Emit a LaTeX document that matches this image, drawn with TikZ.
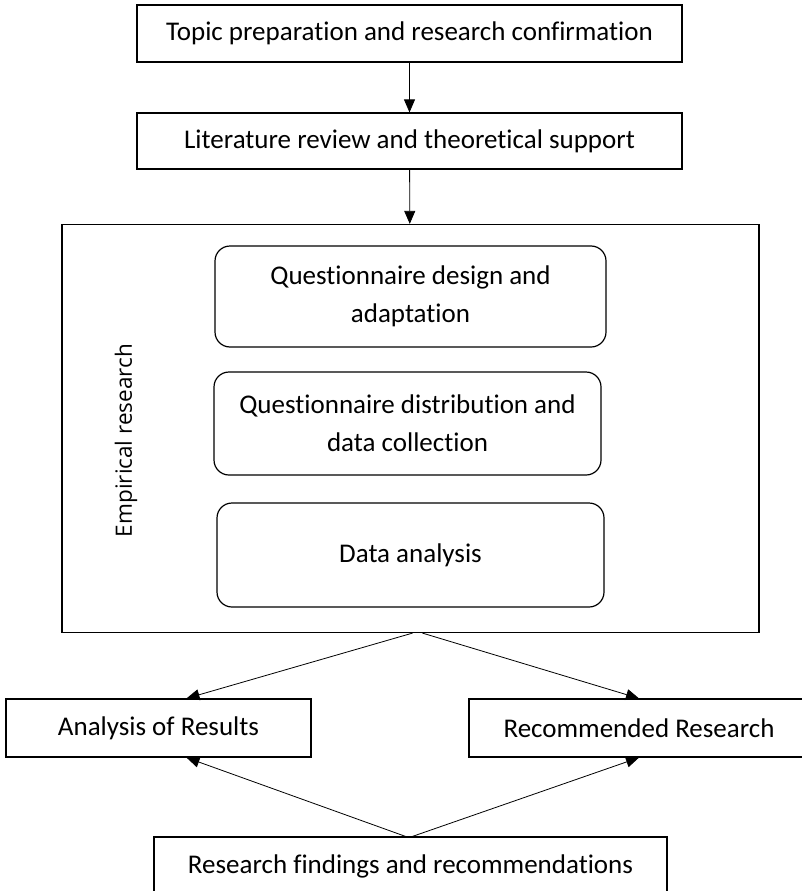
\documentclass[tikz,border=0pt]{standalone}
\usepackage{fontspec}
\setmainfont{Carlito}[Ligatures=NoCommon]
\newfontfamily\etiqfont{Open Sans}
\usetikzlibrary{arrows.meta}
\tikzset{
  boite/.style={draw, line width=1.2pt, minimum height=57pt, inner sep=0pt,
    font=\fontsize{27}{38}\selectfont},
  arrondi/.style={boite, rounded corners=15pt, align=center},
  fleche/.style={-{Triangle[length=13pt,width=11pt]}, line width=0.8pt},
}
\begin{document}
\begin{tikzpicture}[x=1pt, y=-1pt]
    \useasboundingbox (0, 0) rectangle (801, 891);

    % Etapes du haut
    \node[boite, minimum width=545pt] (sujet) at (409.5, 33.5)
    {Topic preparation and research confirmation};
    \node[boite, minimum width=545pt, minimum height=56pt] (revue) at (409.5, 141)
    {Literature review and theoretical support};

    % Recherche empirique
    \node[boite, minimum width=697pt, minimum height=408pt] (empir) at (410.5, 428.5) {};
    \node[rotate=90, font=\etiqfont\fontsize{22.5}{26}\selectfont] (etiq) at (126, 440.5)
    {Empirical research};
    \node[arrondi, minimum width=391pt, minimum height=101pt] (conc) at (410.5, 296.5)
    {Questionnaire design and\\adaptation};
    \node[arrondi, minimum width=387pt, minimum height=103pt] (distr) at (407.5, 423.5)
    {Questionnaire distribution and\\data collection};
    \node[arrondi, minimum width=387pt, minimum height=104pt] (anal) at (410.5, 555)
    {Data analysis};

    % Resultats
    \node[boite, minimum width=305pt, minimum height=58pt] (res) at (158.5, 728)
    {Analysis of Results};
    \node[boite, minimum width=340pt, minimum height=58pt] (reco) at (639, 728)
    {Recommended Research};
    \node[boite, minimum width=513pt, minimum height=58pt] (synth) at (410.5, 866)
    {Research findings and recommendations};

    % Fleches
    \draw[fleche] (sujet) -- (revue);
    \draw[fleche] (revue) -- (empir);
    \draw[fleche] ([xshift=2pt]empir.south) -- ([xshift=28pt]res.north);
    \draw[fleche] ([xshift=12pt]empir.south) -- (reco.north);
    \draw[fleche] ([xshift=-5pt]synth.north) -- ([xshift=28pt]res.south);
    \draw[fleche] ([xshift=2pt]synth.north) -- (reco.south);
  \end{tikzpicture}
\end{document}
